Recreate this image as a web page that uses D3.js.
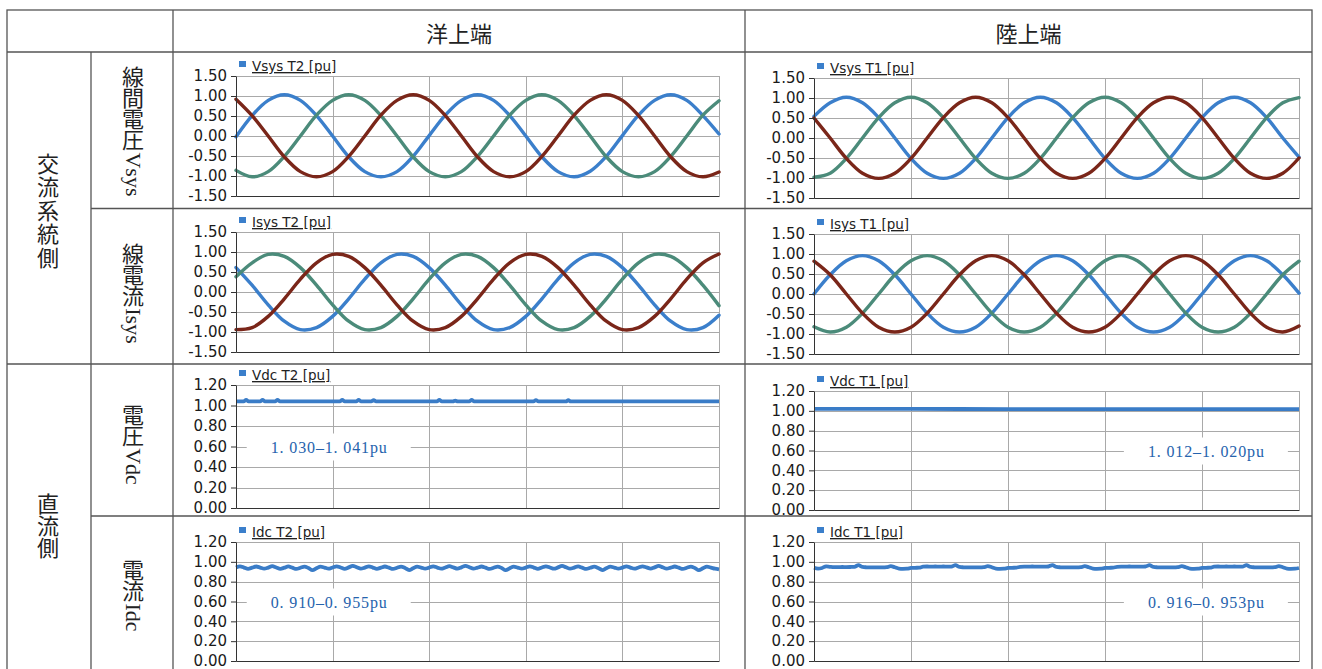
<!DOCTYPE html>
<html>
<head>
<meta charset="utf-8">
<script src="https://cdn.jsdelivr.net/npm/d3@7"></script>
<style>
  html, body { margin: 0; padding: 0; background: #ffffff; }
  svg { display: block; }
</style>
</head>
<body>
<svg id="chart" width="1322" height="669"></svg>
<script>
// ---------------- DATA ----------------
const columnHeaders = ["洋上端", "陸上端"];
const groupLabels = ["交流系統側", "直流側"];
const rowLabelsCJK = ["線間電圧", "線電流", "電圧", "電流"];
const rowLabelsLatin = ["Vsys", "Isys", "Vdc", "Idc"];
const legendLabels = ["Vsys T2 [pu]", "Vsys T1 [pu]", "Isys T2 [pu]", "Isys T1 [pu]",
                      "Vdc T2 [pu]", "Vdc T1 [pu]", "Idc T2 [pu]", "Idc T1 [pu]"];
const rangeNotes = ["1. 030–1. 041pu", "1. 012–1. 020pu", "0. 910–0. 955pu", "0. 916–0. 953pu"];

const acTicks = [-1.5, -1.0, -0.5, 0, 0.5, 1.0, 1.5];
const acTickLabels = ["-1.50", "-1.00", "-0.50", "0.00", "0.50", "1.00", "1.50"];
const dcTicks = [0, 0.2, 0.4, 0.6, 0.8, 1.0, 1.2];
const dcTickLabels = ["0.00", "0.20", "0.40", "0.60", "0.80", "1.00", "1.20"];
const timeGrid = [10, 20, 30, 40, 50];   // ms, vertical gridlines
const timeSpan = [0, 50];                 // ms

// AC waveforms, 31 samples read across the 50 ms window (phase a / b / c)
const vsysT2A = [-0.02,0.51,0.89,1.03,0.89,0.51,0.00,-0.52,-0.89,-1.02,-0.89,-0.51,0.01,0.52,0.89,1.03,0.89,0.51,0.00,-0.52,-0.89,-1.02,-0.88,-0.51,0.01,0.52,0.89,1.03,0.89,0.51,0.05];
const vsysT2B = [-0.86,-1.02,-0.89,-0.51,0.00,0.52,0.89,1.03,0.89,0.51,0.00,-0.52,-0.89,-1.02,-0.89,-0.51,0.00,0.52,0.89,1.03,0.89,0.51,0.00,-0.52,-0.89,-1.02,-0.89,-0.51,0.00,0.52,0.88];
const vsysT2C = [0.92,0.51,0.00,-0.52,-0.89,-1.02,-0.89,-0.51,0.00,0.52,0.89,1.03,0.89,0.51,0.00,-0.52,-0.89,-1.02,-0.89,-0.51,0.00,0.52,0.89,1.03,0.89,0.51,0.00,-0.52,-0.89,-1.02,-0.90];

const vsysT1A = [0.54,0.88,1.02,0.88,0.51,0.00,-0.51,-0.88,-1.01,-0.88,-0.51,0.00,0.51,0.88,1.02,0.88,0.51,0.00,-0.51,-0.88,-1.01,-0.88,-0.51,0.00,0.51,0.88,1.02,0.88,0.51,0.00,-0.48];
const vsysT1B = [-0.98,-0.88,-0.51,0.00,0.51,0.88,1.02,0.88,0.51,0.00,-0.51,-0.88,-1.01,-0.88,-0.51,0.00,0.51,0.88,1.02,0.88,0.51,0.00,-0.51,-0.88,-1.01,-0.88,-0.51,0.00,0.51,0.88,1.01];
const vsysT1C = [0.50,0.00,-0.51,-0.88,-1.01,-0.88,-0.51,0.00,0.51,0.88,1.02,0.88,0.51,0.00,-0.51,-0.88,-1.01,-0.88,-0.51,0.00,0.51,0.88,1.02,0.88,0.51,0.00,-0.51,-0.88,-1.01,-0.88,-0.50];

const isysT2A = [0.61,0.17,-0.32,-0.73,-0.94,-0.89,-0.61,-0.17,0.32,0.73,0.94,0.89,0.61,0.17,-0.32,-0.73,-0.94,-0.89,-0.61,-0.17,0.32,0.73,0.94,0.89,0.61,0.17,-0.32,-0.73,-0.94,-0.89,-0.58];
const isysT2B = [0.38,0.73,0.94,0.89,0.61,0.17,-0.32,-0.73,-0.94,-0.89,-0.61,-0.17,0.32,0.73,0.94,0.89,0.61,0.17,-0.32,-0.73,-0.94,-0.89,-0.61,-0.17,0.32,0.73,0.94,0.89,0.61,0.17,-0.34];
const isysT2C = [-0.94,-0.89,-0.61,-0.17,0.32,0.73,0.94,0.89,0.61,0.17,-0.32,-0.73,-0.94,-0.89,-0.61,-0.17,0.32,0.73,0.94,0.89,0.61,0.17,-0.32,-0.73,-0.94,-0.89,-0.61,-0.17,0.32,0.73,0.95];

const isysT1A = [0.00,0.48,0.83,0.96,0.83,0.48,0.00,-0.48,-0.83,-0.95,-0.83,-0.48,0.00,0.48,0.83,0.96,0.83,0.48,0.00,-0.48,-0.83,-0.95,-0.83,-0.48,0.00,0.48,0.83,0.96,0.83,0.48,0.02];
const isysT1B = [-0.82,-0.95,-0.83,-0.48,0.00,0.48,0.83,0.96,0.83,0.48,0.00,-0.48,-0.83,-0.95,-0.83,-0.48,0.00,0.48,0.83,0.96,0.83,0.48,0.00,-0.48,-0.83,-0.95,-0.83,-0.48,0.00,0.48,0.82];
const isysT1C = [0.82,0.48,0.00,-0.48,-0.83,-0.95,-0.83,-0.48,0.00,0.48,0.83,0.96,0.83,0.48,0.00,-0.48,-0.83,-0.95,-0.83,-0.48,0.00,0.48,0.83,0.96,0.83,0.48,0.00,-0.48,-0.83,-0.95,-0.80];

// DC voltage (time in ms / value in pu)
const vdcT2Time = [0, 0.8,1.05,1.3, 2.5,2.75,3.0, 4.05,4.3,4.55, 10.75,11.0,11.25, 12.45,12.7,12.95, 14.0,14.25,14.5, 20.8,21.05,21.3, 22.45,22.7,22.95, 24.15,24.4,24.65, 30.8,31.05,31.3, 34.15,34.4,34.65, 50];
const vdcT2Values = [1.040,
  1.040,1.055,1.040, 1.040,1.055,1.040, 1.040,1.055,1.040, 1.040,1.055,1.040,
  1.040,1.054,1.040, 1.040,1.053,1.040, 1.040,1.055,1.040, 1.040,1.048,1.040,
  1.040,1.054,1.040, 1.040,1.052,1.040, 1.040,1.051,1.040,
  1.040];
const vdcT1Time = [0, 10, 20, 30, 40, 50];
const vdcT1Values = [1.019, 1.019, 1.018, 1.018, 1.017, 1.017];

// DC current, 121 samples across the 50 ms window
const idcT2Values = [
  0.944,0.955,0.942,0.930,0.941,0.953,0.942,0.931,0.942,0.956,0.943,0.930,0.941,0.954,0.941,0.929,0.940,0.952,0.938,0.916,0.935,0.951,0.942,0.931,
  0.943,0.955,0.943,0.930,0.944,0.960,0.946,0.932,0.942,0.955,0.942,0.930,0.941,0.953,0.941,0.929,0.940,0.952,0.938,0.917,0.935,0.951,0.942,0.931,
  0.942,0.954,0.942,0.931,0.943,0.956,0.944,0.932,0.944,0.960,0.945,0.931,0.941,0.953,0.941,0.929,0.940,0.952,0.938,0.916,0.936,0.952,0.942,0.931,
  0.942,0.954,0.942,0.930,0.943,0.955,0.943,0.931,0.944,0.959,0.945,0.931,0.941,0.954,0.941,0.929,0.940,0.951,0.938,0.917,0.935,0.951,0.942,0.931,
  0.942,0.955,0.942,0.931,0.943,0.955,0.944,0.932,0.944,0.959,0.945,0.931,0.941,0.953,0.941,0.929,0.940,0.952,0.938,0.916,0.935,0.951,0.942,0.931,
  0.925];
const idcT1Values = [
  0.940,0.931,0.938,0.955,0.950,0.947,0.947,0.948,0.947,0.948,0.950,0.966,
  0.948,0.945,0.944,0.945,0.945,0.944,0.946,0.956,0.945,0.932,0.930,0.931,0.938,0.940,0.941,0.951,0.953,0.952,0.953,0.952,0.953,0.951,0.952,0.966,
  0.948,0.945,0.944,0.945,0.945,0.944,0.946,0.957,0.945,0.932,0.930,0.931,0.938,0.940,0.941,0.950,0.952,0.952,0.953,0.952,0.952,0.951,0.953,0.967,
  0.948,0.945,0.944,0.945,0.945,0.944,0.946,0.956,0.945,0.932,0.930,0.931,0.938,0.940,0.941,0.950,0.952,0.952,0.953,0.952,0.952,0.951,0.953,0.966,
  0.948,0.945,0.944,0.945,0.945,0.944,0.946,0.956,0.945,0.932,0.930,0.931,0.938,0.940,0.941,0.951,0.953,0.952,0.953,0.952,0.953,0.951,0.952,0.967,
  0.948,0.945,0.944,0.945,0.945,0.944,0.946,0.957,0.945,0.932,0.930,0.931,0.938];

// ---------------- BUILD SERIES ----------------
const toPoints = (vals, times) => vals.map((v, i) => ({
  t: times ? times[i] : timeSpan[1] * i / (vals.length - 1), v }));

const acColors = ["#3b7fcb", "#4b8b7a", "#7a2619"];
const dcColor = "#3a7cc7";
const noteColor = "#2663ad";

const panels = [
  { left: 236, right: 719, top: 76,  bottom: 196, domain: [-1.5, 1.5], ticks: acTicks, labels: acTickLabels, legend: legendLabels[0], series: [vsysT2A, vsysT2B, vsysT2C] },
  { left: 814, right: 1299, top: 78, bottom: 198, domain: [-1.5, 1.5], ticks: acTicks, labels: acTickLabels, legend: legendLabels[1], series: [vsysT1A, vsysT1B, vsysT1C] },
  { left: 236, right: 719, top: 232, bottom: 352, domain: [-1.5, 1.5], ticks: acTicks, labels: acTickLabels, legend: legendLabels[2], series: [isysT2A, isysT2B, isysT2C] },
  { left: 814, right: 1299, top: 234, bottom: 354, domain: [-1.5, 1.5], ticks: acTicks, labels: acTickLabels, legend: legendLabels[3], series: [isysT1A, isysT1B, isysT1C] },
  { left: 236, right: 719, top: 385, bottom: 508, domain: [0, 1.2], ticks: dcTicks, labels: dcTickLabels, legend: legendLabels[4], dc: toPoints(vdcT2Values, vdcT2Time), note: rangeNotes[0], noteT: 9.6 },
  { left: 814, right: 1299, top: 391, bottom: 510, domain: [0, 1.2], ticks: dcTicks, labels: dcTickLabels, legend: legendLabels[5], dc: toPoints(vdcT1Values, vdcT1Time), note: rangeNotes[1], noteT: 40.4 },
  { left: 236, right: 719, top: 542, bottom: 661, domain: [0, 1.2], ticks: dcTicks, labels: dcTickLabels, legend: legendLabels[6], dc: toPoints(idcT2Values), note: rangeNotes[2], noteT: 9.6 },
  { left: 814, right: 1299, top: 542, bottom: 661, domain: [0, 1.2], ticks: dcTicks, labels: dcTickLabels, legend: legendLabels[7], dc: toPoints(idcT1Values), note: rangeNotes[3], noteT: 40.4 }
];

const svg = d3.select("#chart");
const CJK = "'Noto Sans CJK JP', 'Noto Sans CJK SC', sans-serif";
const SERIF = "'Liberation Serif', 'DejaVu Serif', serif";
const SANS = "'DejaVu Sans', Verdana, sans-serif";

// ---------------- TABLE ----------------
const tbl = { l: 7, r: 1312, t: 10, b: 672, c1: 91, c2: 173, c3: 745, h: 52, r1: 208.5, r2: 364, r3: 516 };
const tg = svg.append("g").attr("stroke", "#555").attr("stroke-width", 1.3).attr("fill", "none");
tg.append("rect").attr("x", tbl.l).attr("y", tbl.t).attr("width", tbl.r - tbl.l).attr("height", tbl.b - tbl.t);
const tableLines = [
  [tbl.l, tbl.h, tbl.r, tbl.h], [tbl.c1, tbl.r1, tbl.r, tbl.r1], [tbl.l, tbl.r2, tbl.r, tbl.r2], [tbl.c1, tbl.r3, tbl.r, tbl.r3],
  [tbl.c1, tbl.h, tbl.c1, tbl.b], [tbl.c2, tbl.t, tbl.c2, tbl.b], [tbl.c3, tbl.t, tbl.c3, tbl.b]
];
tg.selectAll("line").data(tableLines).join("line")
  .attr("x1", d => d[0]).attr("y1", d => d[1]).attr("x2", d => d[2]).attr("y2", d => d[3]);

// headers
svg.selectAll("text.colhead").data(columnHeaders).join("text").attr("class", "colhead")
  .attr("x", (d, i) => i === 0 ? (tbl.c2 + tbl.c3) / 2 : (tbl.c3 + tbl.r) / 2)
  .attr("y", (tbl.t + tbl.h) / 2 + 1)
  .attr("text-anchor", "middle").attr("dominant-baseline", "central")
  .attr("font-family", CJK).attr("font-size", 22).attr("fill", "#222").text(d => d);

// vertical (tategaki) labels as single text elements
function verticalLabel(cx, cy, cjk, latin, size, spacing) {
  const t = svg.append("text")
    .attr("x", cx).attr("y", cy)
    .attr("text-anchor", "middle")
    .style("writing-mode", "vertical-rl")
    .attr("font-size", size).attr("fill", "#222");
  t.append("tspan").attr("font-family", CJK).style("letter-spacing", spacing + "px").text(cjk);
  if (latin) t.append("tspan").attr("font-family", SERIF).attr("dy", 3).text(latin);
}
verticalLabel(48, 211, groupLabels[0], null, 22, 1.5);
verticalLabel(48, 526, groupLabels[1], null, 22, 0);
const rowCenters = [131, 293, 444, 595];
rowLabelsCJK.forEach((c, i) => verticalLabel(133, rowCenters[i], c, rowLabelsLatin[i], 22, -1));

// ---------------- PANELS ----------------
panels.forEach(p => {
  const x = d3.scaleLinear().domain(timeSpan).range([p.left, p.right]);
  const y = d3.scaleLinear().domain(p.domain).range([p.bottom, p.top]);
  const g = svg.append("g");
  const snap = v => Math.round(v) + 0.5;

  // grid
  g.append("g").selectAll("line").data(p.ticks).join("line")
    .attr("x1", p.left).attr("x2", p.right)
    .attr("y1", d => snap(y(d))).attr("y2", d => snap(y(d)))
    .attr("stroke", "#a9a9a9").attr("stroke-width", 1);
  g.append("g").selectAll("line").data(timeGrid).join("line")
    .attr("x1", d => snap(x(d))).attr("x2", d => snap(x(d)))
    .attr("y1", p.top).attr("y2", p.bottom)
    .attr("stroke", "#a9a9a9").attr("stroke-width", 1);

  // range annotation
  if (p.note) {
    const cx = x(p.noteT), cy = y(0.6);
    g.append("rect").attr("x", cx - 82).attr("y", cy - 13).attr("width", 164).attr("height", 27).attr("fill", "#fff");
    g.append("text").attr("x", cx).attr("y", cy + 1)
      .attr("text-anchor", "middle").attr("dominant-baseline", "central")
      .attr("font-family", SERIF).attr("font-size", 16).attr("fill", noteColor)
      .attr("textLength", 116).attr("lengthAdjust", "spacing").text(p.note);
  }

  // series
  if (p.series) {
    const line = d3.line().x(d => x(d.t)).y(d => y(d.v)).curve(d3.curveCatmullRom.alpha(0.5));
    p.series.forEach((s, k) => {
      g.append("path").datum(toPoints(s)).attr("d", line)
        .attr("fill", "none").attr("stroke", acColors[k]).attr("stroke-width", 3.4)
        .attr("stroke-linejoin", "round").attr("stroke-linecap", "round");
    });
  } else {
    const line = d3.line().x(d => x(d.t)).y(d => y(d.v)).curve(d3.curveMonotoneX);
    g.append("path").datum(p.dc).attr("d", line)
      .attr("fill", "none").attr("stroke", dcColor).attr("stroke-width", 3.8)
      .attr("stroke-linejoin", "round");
  }

  // axes
  const ax = g.append("g").attr("transform", `translate(${Math.round(p.left)},0)`)
    .call(d3.axisLeft(y).tickValues(p.ticks).tickFormat((d, i) => p.labels[i])
      .tickSize(5).tickSizeOuter(0).tickPadding(4));
  ax.selectAll("text").attr("font-family", SANS).attr("font-size", 15).attr("fill", "#1a1a1a");
  ax.selectAll("line, path").attr("stroke", "#333");
  const bx = g.append("g").attr("transform", `translate(0,${Math.round(p.bottom)})`)
    .call(d3.axisBottom(x).tickValues([]).tickSizeOuter(0));
  bx.select("path").attr("stroke", "#333");

  // legend
  g.append("rect").attr("x", p.left + 3).attr("y", p.top - 15).attr("width", 7).attr("height", 6).attr("fill", acColors[0]);
  g.append("text").attr("x", p.left + 16).attr("y", p.top - 5)
    .attr("font-family", SANS).attr("font-size", 13.5).attr("fill", "#222")
    .attr("text-decoration", "underline").text(p.legend);
});
</script>
</body>
</html>
